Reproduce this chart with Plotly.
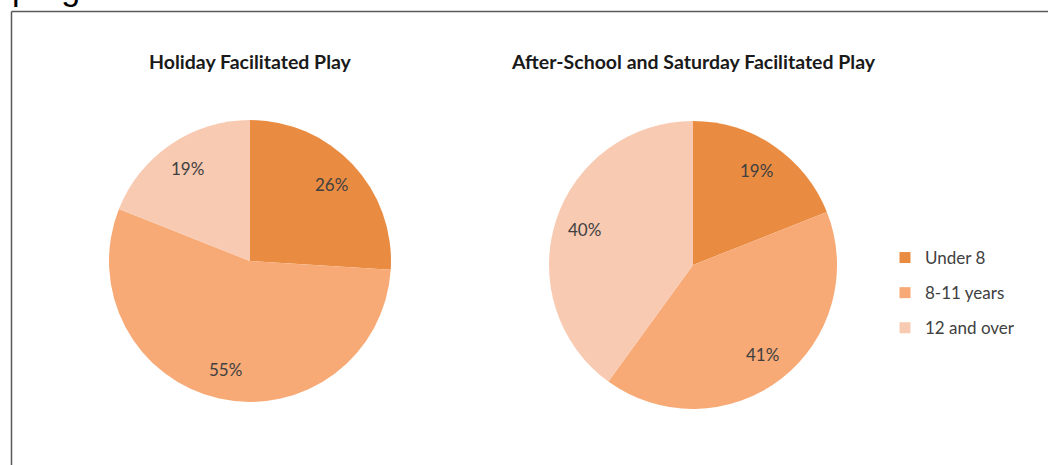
import math
import plotly.graph_objects as go

# ---- data ----
categories = ["Under 8", "8-11 years", "12 and over"]
holiday_values = [26, 55, 19]
after_school_values = [19, 41, 40]
chart_titles = ["Holiday Facilitated Play", "After-School and Saturday Facilitated Play"]
colors = ["#E98C42", "#F7AA76", "#F8CAB2"]

W, H = 1048, 465
TEXT = "#404040"
FONT = "Lato"

# pie layout (pixel centre and radius)
pie_geom = [(250, 261, 141), (693, 265, 144)]
LABEL_R = 0.79


def domain(cx, cy, r):
    return dict(x=[(cx - r) / W, (cx + r) / W], y=[(H - cy - r) / H, (H - cy + r) / H])


fig = go.Figure()
annotations = []

for vals, (cx, cy, r) in zip([holiday_values, after_school_values], pie_geom):
    fig.add_trace(go.Pie(
        labels=categories,
        values=vals,
        sort=False,
        direction="clockwise",
        rotation=0,
        domain=domain(cx, cy, r),
        marker=dict(colors=colors, line=dict(width=0)),
        textinfo="none",
        showlegend=False,
        hoverinfo="label+percent",
    ))
    # data labels placed along each slice's mid-angle
    total = sum(vals)
    cum = 0
    for v in vals:
        theta = 2 * math.pi * (cum + v / 2) / total
        cum += v
        lx = cx + LABEL_R * r * math.sin(theta)
        ly = cy - LABEL_R * r * math.cos(theta)
        annotations.append(dict(
            text=f"{v}%", x=lx / W, y=(H - ly) / H, xref="paper", yref="paper",
            xanchor="center", yanchor="middle", showarrow=False,
            font=dict(family=FONT, size=17, color=TEXT),
        ))

# legend entries (one per category, same colours as slices)
for cat, col in zip(categories, colors):
    fig.add_trace(go.Scatter(
        x=[None], y=[None], mode="markers", name=cat, legendgroup=cat,
        marker=dict(symbol="square", size=11, color=col),
        showlegend=True,
    ))

# titles
title_pos = [250, 693]
for t, cx in zip(chart_titles, title_pos):
    annotations.append(dict(
        text=f"<b>{t}</b>", x=cx / W, y=(H - 62) / H, xref="paper", yref="paper",
        xanchor="center", yanchor="middle", showarrow=False,
        font=dict(family=FONT, size=19.5, color="#1a1a1a"),
    ))
# cropped document text above the chart frame
annotations.append(dict(
    text="programme", x=0, y=1, xref="paper", yref="paper", xanchor="left",
    yanchor="bottom", yshift=-9, xshift=10, showarrow=False,
    font=dict(family="Liberation Sans", size=34, color="#000000"),
))

fig.update_layout(
    width=W, height=H,
    margin=dict(l=0, r=0, t=0, b=0),
    paper_bgcolor="white", plot_bgcolor="white",
    xaxis=dict(visible=False), yaxis=dict(visible=False),
    annotations=annotations,
    legend=dict(
        x=885 / W, y=(H - 240) / H, xanchor="left", yanchor="top",
        font=dict(family=FONT, size=17, color=TEXT),
        traceorder="grouped", tracegroupgap=10,
        itemwidth=30, bgcolor="rgba(0,0,0,0)",
    ),
    shapes=[
        dict(type="line", xref="paper", yref="paper", x0=11.5 / W, x1=11.5 / W,
             y0=0, y1=(H - 11.5) / H, line=dict(color="#595959", width=1.5)),
        dict(type="line", xref="paper", yref="paper", x0=11.5 / W, x1=1,
             y0=(H - 11.5) / H, y1=(H - 11.5) / H, line=dict(color="#595959", width=1.5)),
    ],
)

fig.write_html("out.html", config={"displayModeBar": False},
               post_script="document.body.style.margin='0';")
